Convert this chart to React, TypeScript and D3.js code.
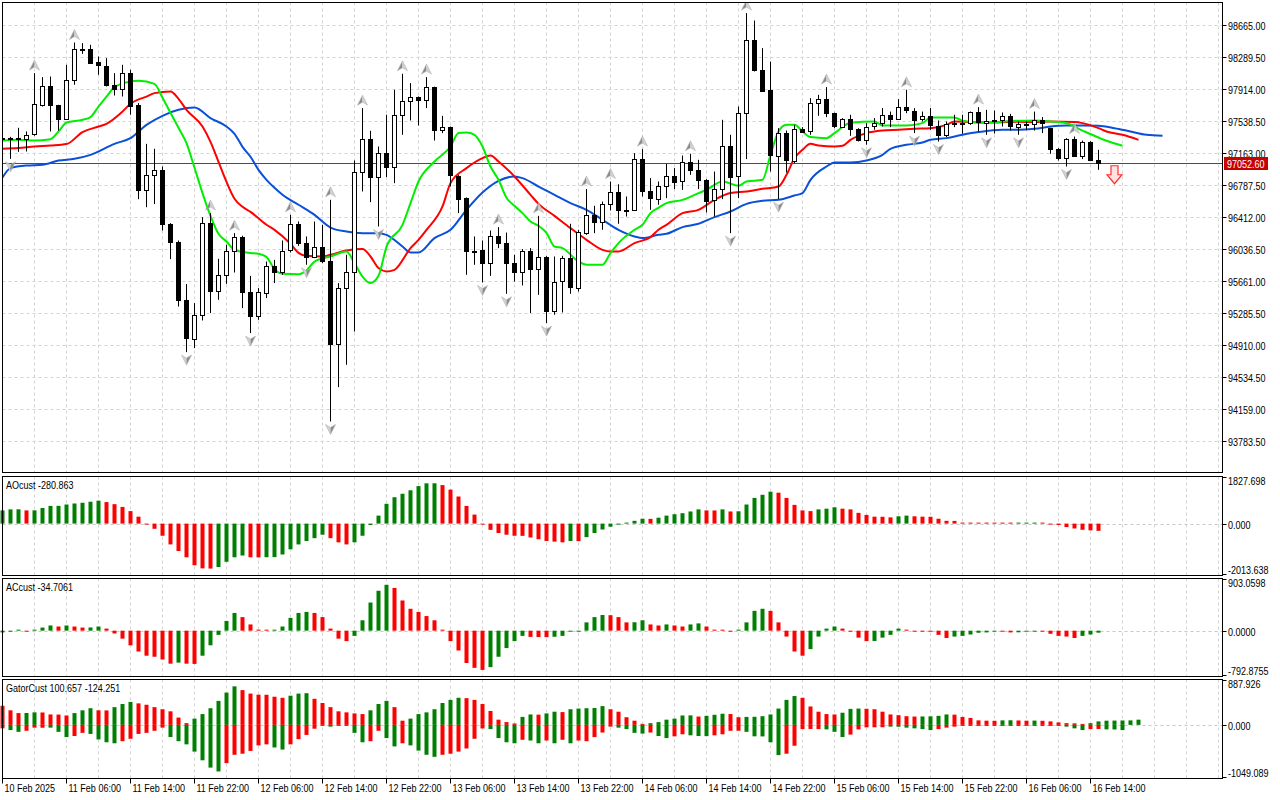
import React from 'react';
import * as d3 from 'd3';

// ---- time axis (one label every 8 hourly bars, first bar = label 0)
const timeLabels = ['10 Feb 2025', '11 Feb 06:00', '11 Feb 14:00', '11 Feb 22:00', '12 Feb 06:00', '12 Feb 14:00',
  '12 Feb 22:00', '13 Feb 06:00', '13 Feb 14:00', '13 Feb 22:00', '14 Feb 06:00', '14 Feb 14:00', '14 Feb 22:00',
  '15 Feb 06:00', '15 Feb 14:00', '15 Feb 22:00', '16 Feb 06:00', '16 Feb 14:00'];

const priceTicks = [98665.0, 98289.5, 97914.0, 97538.5, 97163.0, 96787.5, 96412.0, 96036.5, 95661.0, 95285.5,
  94910.0, 94534.5, 94159.0, 93783.5];
const bidPrice = 97052.6;

// ---- hourly candles
const candleOpen = [97341, 97341, 97341, 97341, 97383, 97728, 97955, 97728, 97564, 98022,
  98385, 98389, 98233, 98193, 97967, 97920, 98111, 97728, 96734, 96910,
  96969, 96332, 96121, 95436, 94986, 95268, 96344, 95541, 95734, 96019,
  96180, 95530, 95248, 95530, 95846, 95776, 96022, 96332, 96109, 95945,
  96062, 95900, 94928, 95581, 95769, 96942, 97329, 96879, 97165, 97001,
  97611, 97771, 97822, 97782, 97940, 97430, 97470, 96902, 96637, 96011,
  96030, 95881, 96198, 96116, 95881, 95776, 96022, 95816, 95952, 95318,
  95658, 95933, 95593, 96226, 96441, 96363, 96570, 96708, 96492, 96492,
  97095, 96715, 96637, 96785, 96899, 96832, 97060, 96969, 96852, 96609,
  96743, 97251, 96891, 97634, 98495, 98143, 97900, 97133, 97400, 97078,
  97450, 97419, 97752, 97799, 97634, 97477, 97568, 97447, 97321, 97477,
  97517, 97615, 97568, 97705, 97665, 97556, 97595, 97486, 97380, 97509,
  97521, 97515, 97642, 97524, 97544, 97548, 97595, 97477, 97509, 97505,
  97548, 97458, 97212, 97107, 97329, 97133, 97301, 97087];
const candleHigh = [97368, 97356, 97462, 97419, 98104, 98057, 98064, 97732, 98201, 98463,
  98456, 98436, 98299, 98280, 98104, 98201, 98143, 97752, 97274, 97216,
  97008, 96344, 96140, 95628, 95405, 96414, 96461, 95925, 96089, 96226,
  96195, 95725, 95581, 95893, 95913, 96140, 96441, 96363, 96187, 96363,
  96324, 96617, 95640, 95972, 97078, 97693, 97427, 97243, 97615, 97908,
  98096, 97987, 97830, 98057, 97945, 97603, 97477, 96907, 96645, 96187,
  96140, 96257, 96297, 96233, 95972, 96039, 96050, 96429, 95957, 95952,
  95960, 96336, 96265, 96743, 96547, 96597, 96832, 96800, 96656, 97165,
  97212, 96872, 96832, 97040, 96989, 97137, 97157, 97087, 96860, 96949,
  97556, 97380, 97712, 98808, 98721, 98397, 98240, 97458, 97430, 97497,
  97470, 97810, 97849, 97940, 97640, 97576, 97615, 97458, 97517, 97576,
  97693, 97653, 97799, 97908, 97693, 97653, 97693, 97548, 97536, 97615,
  97615, 97653, 97705, 97673, 97665, 97642, 97626, 97536, 97536, 97653,
  97588, 97463, 97224, 97341, 97360, 97313, 97305, 97204];
const candleLow = [97321, 97098, 97180, 97184, 97368, 97712, 97419, 97430, 97556, 97967,
  98330, 98213, 98084, 97947, 97841, 97829, 97615, 96625, 96531, 96567,
  96257, 95921, 95365, 94830, 94877, 95201, 95288, 95444, 95631, 95764,
  95346, 95053, 95209, 95464, 95640, 95737, 95999, 96077, 95855, 95933,
  95874, 94016, 94419, 94681, 95072, 96715, 96590, 96304, 96884, 96813,
  97380, 97548, 97489, 97693, 97313, 97400, 96773, 96461, 95737, 95855,
  95647, 95725, 96050, 95514, 95658, 95612, 95288, 95502, 95170, 95268,
  95295, 95514, 95541, 96206, 96226, 96265, 96492, 96336, 96421, 96492,
  96656, 96500, 96559, 96637, 96743, 96734, 96910, 96743, 96468, 96421,
  96625, 96226, 96637, 97095, 98123, 97888, 96949, 96625, 96937, 97048,
  97415, 97380, 97603, 97588, 97458, 97470, 97368, 97301, 97263, 97439,
  97477, 97470, 97564, 97634, 97400, 97536, 97439, 97301, 97353, 97470,
  97392, 97497, 97419, 97380, 97395, 97477, 97430, 97380, 97439, 97430,
  97400, 97157, 97078, 97008, 97125, 97095, 97078, 96969];
const candleClose = [97345, 97336, 97345, 97383, 97740, 97947, 97728, 97564, 98022, 98385,
  98380, 98228, 98193, 97967, 97920, 98104, 97728, 96734, 96910, 96969,
  96332, 96121, 95436, 94986, 95268, 96344, 95541, 95734, 96019, 96180,
  95530, 95248, 95530, 95846, 95776, 96022, 96332, 96109, 95945, 96062,
  95893, 94928, 95581, 95769, 96942, 97329, 96879, 97165, 97001, 97611,
  97771, 97818, 97782, 97940, 97430, 97470, 96902, 96637, 96011, 96022,
  95881, 96198, 96116, 95881, 95776, 96022, 95816, 95952, 95318, 95658,
  95933, 95593, 96245, 96441, 96363, 96570, 96708, 96492, 96495, 97095,
  96715, 96637, 96785, 96899, 96832, 97060, 96961, 96852, 96609, 96743,
  97251, 96891, 97634, 98495, 98143, 97900, 97133, 97400, 97078, 97450,
  97419, 97752, 97799, 97634, 97477, 97568, 97447, 97321, 97477, 97517,
  97615, 97568, 97705, 97665, 97556, 97595, 97486, 97380, 97509, 97524,
  97515, 97642, 97524, 97544, 97548, 97595, 97477, 97509, 97505, 97548,
  97517, 97212, 97107, 97329, 97133, 97301, 97087, 97052.6];

// ---- fractal bars
const fractalUp = [4, 9, 26, 29, 36, 41, 45, 50, 53, 62, 67, 73, 76, 80, 86, 93, 103, 113, 122, 129, 134];
const fractalDown = [1, 23, 31, 38, 41, 47, 60, 63, 68, 91, 97, 108, 114, 117, 123, 127, 133];
const sellSignal = { bar: 139, price: 97017 };

// ---- alligator lines [bar, price]
const jawLine = [[0, 96879], [1, 96989], [3, 97020], [5, 97028], [7, 97078], [9, 97098], [11, 97145], [14, 97274], [16, 97341],
  [18, 97497], [20, 97603], [22, 97673], [24, 97700], [26, 97576], [28, 97477], [29, 97392], [30, 97239], [31, 97122],
  [32, 96969], [33, 96852], [34, 96758], [35, 96676], [37, 96559], [39, 96441], [41, 96292], [43, 96245], [45, 96226],
  [47, 96226], [48, 96206], [50, 96069], [51, 95999], [52, 95999], [54, 96168], [56, 96265], [58, 96500], [60, 96703],
  [62, 96840], [64, 96891], [65, 96872], [67, 96773], [69, 96676], [71, 96579], [73, 96500], [75, 96383], [77, 96265],
  [79, 96187], [80, 96168], [82, 96206], [83, 96218], [85, 96297], [87, 96336], [89, 96414], [91, 96480], [93, 96570],
  [95, 96606], [97, 96617], [99, 96668], [100, 96696], [101, 96852], [103, 97008], [104, 97055], [106, 97055], [108, 97078],
  [110, 97145], [111, 97216], [113, 97263], [115, 97290], [116, 97321], [118, 97341], [120, 97380], [122, 97412],
  [125, 97439], [127, 97439], [129, 97450], [131, 97477], [133, 97489], [135, 97489], [137, 97486], [139, 97458],
  [141, 97419], [143, 97380], [145, 97368]];
const teethLine = [[0, 97216], [2, 97224], [4, 97243], [6, 97254], [8, 97271], [10, 97412], [12, 97477], [13, 97509], [15, 97653],
  [16, 97744], [18, 97829], [19, 97869], [21, 97888], [22, 97802], [23, 97673], [25, 97477], [26, 97298], [27, 97063],
  [28, 96828], [29, 96629], [30, 96535], [31, 96476], [33, 96324], [34, 96265], [36, 96101], [37, 95995], [38, 95960],
  [40, 95952], [41, 95972], [43, 96022], [45, 96039], [46, 95952], [47, 95816], [48, 95776], [49, 95796], [51, 96050],
  [52, 96148], [53, 96265], [55, 96539], [56, 96813], [58, 96989], [60, 97107], [61, 97137], [62, 97067], [64, 96891],
  [66, 96676], [67, 96570], [69, 96429], [71, 96285], [73, 96148], [75, 96030], [76, 96011], [77, 96011], [79, 96109],
  [81, 96180], [82, 96265], [83, 96324], [85, 96461], [87, 96500], [89, 96617], [91, 96696], [93, 96715], [95, 96746],
  [97, 96773], [98, 96910], [99, 97107], [100, 97204], [101, 97274], [102, 97254], [104, 97243], [105, 97251], [106, 97321],
  [108, 97400], [110, 97430], [112, 97439], [114, 97450], [116, 97458], [118, 97497], [119, 97536], [121, 97529],
  [123, 97524], [127, 97532], [129, 97529], [131, 97536], [134, 97529], [135, 97517], [137, 97458], [138, 97419],
  [140, 97380], [142, 97321]];
const lipsLine = [[0, 97313], [2, 97321], [4, 97313], [6, 97329], [7, 97419], [8, 97524], [10, 97556], [11, 97588], [12, 97712],
  [13, 97829], [14, 97940], [16, 98005], [17, 98014], [19, 97978], [20, 97814], [21, 97638], [22, 97462], [23, 97283],
  [24, 96993], [25, 96696], [26, 96429], [27, 96218], [28, 96128], [29, 96030], [31, 95992], [32, 95984], [33, 95945],
  [34, 95804], [35, 95749], [37, 95745], [38, 95788], [39, 95893], [41, 95952], [43, 96011], [44, 95874], [45, 95717],
  [46, 95640], [47, 95725], [48, 96066], [50, 96324], [51, 96579], [52, 96832], [54, 97067], [56, 97243], [57, 97400],
  [58, 97407], [59, 97380], [60, 97243], [61, 97008], [62, 96852], [63, 96641], [64, 96547], [65, 96461], [66, 96363],
  [67, 96312], [68, 96230], [69, 96069], [70, 96050], [72, 95893], [73, 95855], [75, 95855], [76, 95992], [77, 96109],
  [79, 96265], [80, 96324], [81, 96461], [82, 96523], [83, 96579], [85, 96617], [87, 96696], [88, 96735], [90, 96832],
  [92, 96782], [93, 96832], [95, 96852], [96, 97145], [97, 97419], [98, 97497], [99, 97497], [100, 97419], [101, 97353],
  [103, 97341], [104, 97400], [106, 97521], [109, 97536], [110, 97489], [113, 97489], [115, 97517], [116, 97583],
  [119, 97583], [120, 97544], [122, 97524], [127, 97544], [129, 97548], [131, 97536], [133, 97515], [135, 97430],
  [137, 97348], [138, 97310], [140, 97251]];

// ---- Awesome oscillator
const aoValues = [512, 552, 555, 512, 515, 606, 687, 690, 741, 781,
  808, 849, 889, 835, 754, 647, 485, 269, -27, -202,
  -471, -808, -1064, -1307, -1616, -1738, -1745, -1684, -1482, -1307,
  -1239, -1307, -1310, -1305, -1300, -1199, -997, -808, -674, -566,
  -431, -566, -727, -808, -727, -471, -54, 310, 768, 1024,
  1158, 1293, 1455, 1563, 1565, 1495, 1320, 1051, 687, 350,
  -27, -242, -364, -431, -471, -475, -539, -606, -674, -700,
  -727, -674, -680, -525, -364, -229, -121, -40, 10, 108,
  189, 185, 229, 310, 364, 404, 471, 552, 512, 510,
  552, 471, 478, 741, 997, 1118, 1239, 1199, 997, 727,
  512, 485, 552, 579, 633, 579, 552, 418, 337, 269,
  265, 242, 283, 310, 283, 269, 265, 189, 108, 105,
  40, 27, 15, 12, 10, 8, 3, 8, 12, 14,
  5, -10, -54, -135, -189, -240, -262, -280.863];
const aoColors = 'gggrgggggg' + 'gggrrrrrrr' + 'rrrrrrrggg' + 'grrggggggg' + 'grrrgggggg' + 'gggggrrrrr' +
  'rrrrrrrrrr' + 'rgrggggggg' + 'grggggggrr' + 'grgggggrrr' + 'rrgggrrrrr' + 'rrggrrrrrr' + 'rrrrrrrggg' + 'rrrrrrrr';

// ---- Accelerator oscillator
const acValues = [-30, -18, 6, -6, 12, 54, 90, 72, 90, 72,
  54, 56, 72, 36, -48, -138, -253, -361, -433, -451,
  -499, -571, -553, -571, -575, -433, -253, -72, 168, 307,
  235, 108, 18, 3, 12, 72, 222, 307, 325, 307,
  235, 36, -138, -180, -90, 180, 487, 691, 794, 740,
  523, 379, 325, 253, 180, 18, -180, -343, -559, -643,
  -679, -631, -451, -301, -180, -90, -108, -110, -112, -105,
  -90, -6, -4, 144, 235, 271, 268, 235, 144, 146,
  180, 108, 90, 108, 90, 72, 108, 126, 72, 18,
  16, -18, 2, 144, 343, 379, 343, 144, -102, -361,
  -433, -319, -102, 36, 72, 36, -18, -120, -180, -178,
  -120, -72, 36, 18, -2, -6, -18, -72, -126, -102,
  -90, -66, -36, -30, -12, -14, -30, -28, -6, -4,
  -12, -54, -90, -102, -126, -90, -66, -34.7061];
const acColors = 'gggrgggrgr' + 'rggrrrrrrr' + 'rrgrrggggg' + 'rrrrgggggr' + 'rrrrgggggr' + 'rrrrrrrrrr' +
  'rgggggrrrg' + 'ggggggrrrg' + 'grrgrrggrr' + 'rrggggrrrr' + 'rggggrrrrg' + 'gggrrrrrrg' + 'gggggrrggg' + 'rrrrrggg';

// ---- Gator oscillator (upper = jaw/teeth, lower = teeth/lips)
const gatorUpper = [374, 285, 231, 233, 245, 243, 204, 202, 184, 231,
  285, 326, 285, 283, 347, 408, 449, 421, 394, 347,
  306, 265, 143, 34, 122, 211, 326, 469, 632, 754,
  680, 612, 591, 589, 551, 530, 571, 612, 620, 510,
  428, 347, 265, 245, 224, 211, 285, 408, 469, 347,
  82, 122, 211, 245, 306, 428, 489, 530, 523, 489,
  408, 272, 102, 54, 27, 156, 204, 200, 224, 258,
  250, 306, 319, 326, 330, 367, 306, 258, 150, 82,
  20, 34, 54, 102, 122, 184, 186, 163, 177, 197,
  218, 212, 150, 156, 158, 170, 204, 319, 489, 564,
  530, 360, 258, 211, 204, 238, 313, 319, 315, 306,
  258, 204, 190, 170, 163, 165, 167, 177, 204, 200,
  156, 136, 88, 82, 80, 88, 90, 86, 82, 84,
  80, 68, 48, 34, 30, 14, 34, 68, 82, 84,
  86, 88, 102];
const gatorUpperColors = 'rrrggrrrrg' + 'ggrrgggrrr' + 'rrrrgggggg' + 'rrrrrrgggr' + 'rrrrrrgggr' + 'rgggggggrr' +
  'rrrrrggrgg' + 'rgggggrrrr' + 'rggggggrgg' + 'grrggggggg' + 'rrrrrgggrr' + 'rrrrrggggr' + 'rrrrrggrrg' + 'rrrrrrgggg' + 'ggg';
const gatorLower = [-68, -102, -136, -116, -54, -56, -54, -136, -238, -218,
  -156, -177, -285, -340, -360, -319, -272, -177, -156, -116,
  -54, -238, -319, -381, -523, -693, -836, -911, -748, -585,
  -564, -510, -401, -381, -442, -483, -381, -279, -197, -75,
  -4, -34, -7, -5, -156, -340, -319, -116, -258, -421,
  -360, -401, -503, -585, -625, -585, -564, -523, -462, -272,
  -70, -82, -258, -340, -360, -292, -306, -360, -306, -360,
  -292, -360, -306, -319, -238, -150, -34, -54, -82, -156,
  -170, -150, -218, -258, -224, -184, -204, -218, -220, -204,
  -184, -116, -115, -136, -224, -226, -340, -591, -564, -408,
  -82, -80, -82, -88, -136, -238, -190, -88, -48, -47,
  -46, -34, -36, -54, -68, -82, -102, -82, -54, -34,
  -14, -3, -14, -12, -4, -14, -15, -4, -14, -15,
  -5, -4, -14, -34, -68, -102, -82, -80, -88, -90,
  -102];
const gatorLowerColors = 'rggrrrgggr' + 'rggggrrrrr' + 'rgggggggrr' + 'rrrrggrrrr' + 'rgrrggrrgg' + 'rggggrrrrr' +
  'rggggrggrg' + 'rgrrrrrggg' + 'grggrrgggr' + 'rrrgggggrr' + 'rrrgggrrrr' + 'rggggggrrr' + 'rrgrrggrgg' + 'rrggggrrgg' + 'g';

const FONT = "'Liberation Sans', Arial, sans-serif";
const GRID = '#d4d4d4';
const GREEN = '#008000';
const RED = '#ff0000';

const LEFT = 2.5;
const RIGHT = 1222.5;
const panels = {
  main: { top: 2.5, bottom: 472.5 },
  ao: { top: 476.5, bottom: 575.5, min: -2013.638, max: 1827.698, labels: ['1827.698', '0.000', '-2013.638'], title: 'AOcust -280.863' },
  ac: { top: 578.5, bottom: 676.5, min: -792.8755, max: 903.0598, labels: ['903.0598', '0.0000', '-792.8755'], title: 'ACcust -34.7061' },
  gator: { top: 679.5, bottom: 778.5, min: -1049.089, max: 887.926, labels: ['887.926', '0.000', '-1049.089'], title: 'GatorCust 100.657 -124.251' },
};

const x = d3.scaleLinear().domain([0, 152]).range([2.5, 2.5 + 8 * 152]);
const yPrice = d3.scaleLinear().domain([93783.5, 98665]).range([441.3, 25.3]);
const gridBars = d3.range(0, 153, 4);

// narrow, tall text like the terminal's Tahoma 8
function T({ x: tx, y: ty, fill = '#000', children }: { x: number; y: number; fill?: string; children: React.ReactNode }) {
  return (
    <text transform={`translate(${tx},${ty}) scale(0.82,1)`} fontSize={11} fontFamily={FONT} fill={fill}>{children}</text>
  );
}

function VGrid({ top, bottom }: { top: number; bottom: number }) {
  return (
    <g>
      {gridBars.map(b => (
        <line key={b} x1={x(b)} x2={x(b)} y1={top} y2={bottom} stroke={GRID} strokeDasharray="3,3" />
      ))}
    </g>
  );
}

function Histogram({ values, colors, y }: { values: number[]; colors: string; y: d3.ScaleLinear<number, number> }) {
  const y0 = y(0);
  return (
    <g>
      {values.map((v, i) => {
        const h = Math.max(1, Math.abs(y(v) - y0));
        return <rect key={i} x={x(i) - 2} y={v >= 0 ? y0 - h : y0} width={4} height={h}
          fill={colors[i] === 'g' ? GREEN : RED} />;
      })}
    </g>
  );
}

function SubPanel({ p, children }: { p: any; children: (y: d3.ScaleLinear<number, number>) => React.ReactNode }) {
  const y = d3.scaleLinear().domain([p.min, p.max]).range([p.bottom, p.top]);
  const y0 = Math.round(y(0)) + 0.5;
  return (
    <g>
      <VGrid top={p.top} bottom={p.bottom} />
      <line x1={LEFT} x2={RIGHT} y1={y0} y2={y0} stroke="#c8c8c8" strokeDasharray="3,3" />
      {children(y)}
      <rect x={LEFT} y={p.top} width={RIGHT - LEFT} height={p.bottom - p.top} fill="none" stroke="#000" />
      <T x={6} y={p.top + 12}>{p.title}</T>
      <line x1={RIGHT} x2={RIGHT + 4} y1={p.top + 1} y2={p.top + 1} stroke="#000" />
      <line x1={RIGHT} x2={RIGHT + 4} y1={y0} y2={y0} stroke="#000" />
      <line x1={RIGHT} x2={RIGHT + 4} y1={p.bottom - 1} y2={p.bottom - 1} stroke="#000" />
      <T x={1228} y={p.top + 8}>{p.labels[0]}</T>
      <T x={1228} y={y0 + 4}>{p.labels[1]}</T>
      <T x={1228} y={p.bottom - 2}>{p.labels[2]}</T>
    </g>
  );
}

function FractalArrow({ bar, price, up }: { bar: number; price: number; up: boolean }) {
  const cx = x(bar);
  const py = yPrice(price);
  if (up) {
    const b = py - 3;
    const tip = b - 10;
    return (
      <g>
        <path d={`M${cx},${tip}L${cx - 5},${b}L${cx},${b - 3}Z`} fill="#8a8a8a" />
        <path d={`M${cx},${tip}L${cx + 5},${b}L${cx},${b - 3}Z`} fill="#d2d2d2" />
        <path d={`M${cx},${tip}L${cx - 5},${b}L${cx},${b - 3}L${cx + 5},${b}Z`} fill="none" stroke="#b4b4b4" strokeWidth={0.6} />
      </g>
    );
  }
  const b = py + 3;
  const tip = b + 10;
  return (
    <g>
      <path d={`M${cx},${tip}L${cx - 5},${b}L${cx},${b + 3}Z`} fill="#d2d2d2" />
      <path d={`M${cx},${tip}L${cx + 5},${b}L${cx},${b + 3}Z`} fill="#8a8a8a" />
      <path d={`M${cx},${tip}L${cx - 5},${b}L${cx},${b + 3}L${cx + 5},${b}Z`} fill="none" stroke="#b4b4b4" strokeWidth={0.6} />
    </g>
  );
}

export default function App() {
  const line = d3.line<number[]>()
    .x(d => x(d[0]))
    .y(d => yPrice(d[1]))
    .curve(d3.curveMonotoneX);

  const bidY = Math.round(yPrice(bidPrice)) + 0.5;
  const sx = x(sellSignal.bar);
  const sy = yPrice(sellSignal.price);

  return (
    <svg width={1280} height={800} viewBox="0 0 1280 800"
      style={{ position: 'absolute', left: 0, top: 0, background: '#fff' }}>
      <rect x={0} y={0} width={1280} height={800} fill="#fff" />
      <defs>
        <clipPath id="mainClip">
          <rect x={LEFT} y={panels.main.top} width={RIGHT - LEFT} height={panels.main.bottom - panels.main.top} />
        </clipPath>
      </defs>

      {/* main price panel */}
      <VGrid top={panels.main.top} bottom={panels.main.bottom} />
      {priceTicks.map(t => {
        const yy = Math.round(yPrice(t)) + 0.5;
        return <line key={t} x1={LEFT} x2={RIGHT} y1={yy} y2={yy} stroke={GRID} strokeDasharray="3,3" />;
      })}
      <line x1={LEFT} x2={RIGHT} y1={bidY} y2={bidY} stroke="#ff0000" />

      <g clipPath="url(#mainClip)">
        <path d={line(jawLine) || ''} fill="none" stroke="#0a50d8" strokeWidth={2} />
        <path d={line(teethLine) || ''} fill="none" stroke="#ff0000" strokeWidth={2} />
        <path d={line(lipsLine) || ''} fill="none" stroke="#00ee00" strokeWidth={2} />

        {candleOpen.map((o, i) => {
          const c = candleClose[i];
          const cx = x(i);
          const yo = yPrice(o);
          const yc = yPrice(c);
          const top = Math.round(Math.min(yo, yc)) + 0.5;
          const h = Math.max(1, Math.round(Math.abs(yc - yo)));
          const bull = c >= o;
          return (
            <g key={i}>
              <line x1={cx} x2={cx} y1={yPrice(candleHigh[i])} y2={yPrice(candleLow[i])} stroke="#000" />
              <rect x={cx - 2} y={top} width={4} height={h} fill={bull ? '#fff' : '#000'} stroke="#000" />
            </g>
          );
        })}

        {fractalUp.map(b => <FractalArrow key={'u' + b} bar={b} price={candleHigh[b]} up={true} />)}
        {fractalDown.map(b => <FractalArrow key={'d' + b} bar={b} price={candleLow[b]} up={false} />)}

        <path d={`M${sx - 3.5},${sy}H${sx + 3.5}V${sy + 9}H${sx + 7.5}L${sx},${sy + 18}L${sx - 7.5},${sy + 9}H${sx - 3.5}Z`}
          fill="#ffe2e2" stroke="#ff3030" strokeWidth={1.2} />
      </g>

      <rect x={LEFT} y={panels.main.top} width={RIGHT - LEFT} height={panels.main.bottom - panels.main.top} fill="none" stroke="#000" />
      {priceTicks.map(t => {
        const yy = Math.round(yPrice(t)) + 0.5;
        return (
          <g key={'t' + t}>
            <line x1={RIGHT} x2={RIGHT + 4} y1={yy} y2={yy} stroke="#000" />
            <T x={1228} y={yy + 4}>{t.toFixed(2)}</T>
          </g>
        );
      })}
      <rect x={1224} y={bidY - 6.5} width={44} height={13} fill="#c80000" />
      <T x={1227} y={bidY + 4} fill="#fff">{bidPrice.toFixed(2)}</T>

      {/* oscillator panels */}
      <SubPanel p={panels.ao}>{y => <Histogram values={aoValues} colors={aoColors} y={y} />}</SubPanel>
      <SubPanel p={panels.ac}>{y => <Histogram values={acValues} colors={acColors} y={y} />}</SubPanel>
      <SubPanel p={panels.gator}>{y => (
        <g>
          <Histogram values={gatorUpper} colors={gatorUpperColors} y={y} />
          <Histogram values={gatorLower} colors={gatorLowerColors} y={y} />
        </g>
      )}</SubPanel>

      {/* time axis */}
      {timeLabels.map((lab, k) => {
        const tx = x(k * 8);
        return (
          <g key={lab}>
            <line x1={tx} x2={tx} y1={panels.gator.bottom} y2={panels.gator.bottom + 5} stroke="#000" />
            <T x={tx + 2} y={792}>{lab}</T>
          </g>
        );
      })}
    </svg>
  );
}
